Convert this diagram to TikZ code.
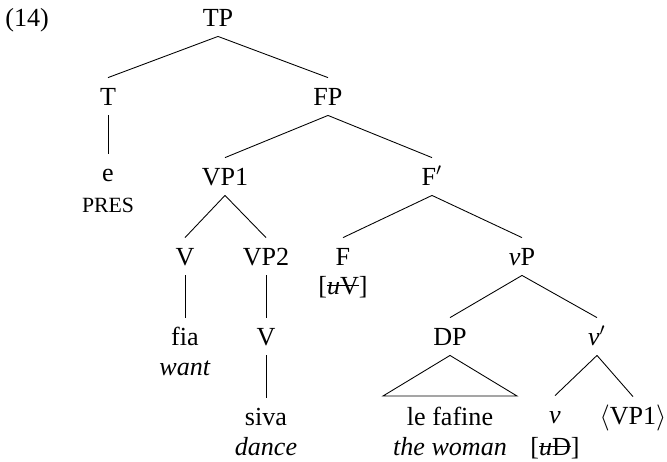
\documentclass[tikz,border=0pt]{standalone}
\usepackage{fontspec}
\setmainfont{Liberation Serif}
\newcommand{\featstrike}[1]{\setbox0\hbox{#1}\rlap{\raisebox{0.3em}{\rule{\wd0}{0.5pt}}}\box0}

\begin{document}
\begin{tikzpicture}[x=0.46pt, y=-0.46pt,
    every node/.style={font=\fontsize{12}{14.5}\selectfont, inner sep=0pt},
    cat/.style={anchor=base, text height=12.4pt, text depth=4.6pt},
    feat/.style={anchor=base}]
                \useasboundingbox (0,0) rectangle (667,462);
                \node[anchor=base west] (ex) at (5,26) {(14)};
                \node[cat] (tp) at (218,26) {TP};
                \node[cat] (t) at (108,105) {T};
                \node[cat] (fp) at (328,105) {FP};
                \node[cat] (e) at (108,181) {e};
                \node[feat] (pres) at (108,212) {\fontsize{10}{12}\selectfont PRES};
                \node[cat] (vpone) at (225,185) {VP1};
                \node[cat] (fbar) at (432,185) {F$'$};
                \node[cat] (v) at (185,265) {V};
                \node[cat] (vptwo) at (266,265) {VP2};
                \node[cat] (f) at (343,265) {F};
                \node[feat] (fuv) at (343,294) {[\featstrike{\textit{u}V}]};
                \node[cat] (littlevp) at (522,265) {\textit{v}P};
                \node[cat] (fia) at (185,345) {fia};
                \node[feat] (want) at (185,375) {\textit{want}};
                \node[cat] (vlow) at (266,345) {V};
                \node[cat] (dp) at (450,345) {DP};
                \node[cat] (vbar) at (597,345) {\textit{v}$'$};
                \node[cat] (siva) at (266,425) {siva};
                \node[feat] (dance) at (266,455) {\textit{dance}};
                \node[cat] (fafine) at (450,425) {le fafine};
                \node[feat] (woman) at (450,455) {\textit{the woman}};
                \node[cat] (littlev) at (555,423) {\textit{v}};
                \node[feat] (fud) at (555,455) {[\featstrike{\textit{u}D}]};
                \node[cat] (copy) at (633,424) {$\langle$VP1$\rangle$};
                \coordinate (dpl) at (383,396);
                \coordinate (dpr) at (517,396);
                \draw (tp.south) -- (t.north);
                \draw (tp.south) -- (fp.north);
                \draw (t.south) -- (e.north);
                \draw (fp.south) -- (vpone.north);
                \draw (fp.south) -- (fbar.north);
                \draw (vpone.south) -- (v.north);
                \draw (vpone.south) -- (vptwo.north);
                \draw (v.south) -- (fia.north);
                \draw (vptwo.south) -- (vlow.north);
                \draw (vlow.south) -- (siva.north);
                \draw (fbar.south) -- (f.north);
                \draw (fbar.south) -- (littlevp.north);
                \draw (littlevp.south) -- (dp.north);
                \draw (littlevp.south) -- (vbar.north);
                \draw (dp.south) -- (dpl) -- (dpr) -- cycle;
                \draw (vbar.south) -- (littlev.north);
                \draw (vbar.south) -- (copy.north);
\end{tikzpicture}
\end{document}
